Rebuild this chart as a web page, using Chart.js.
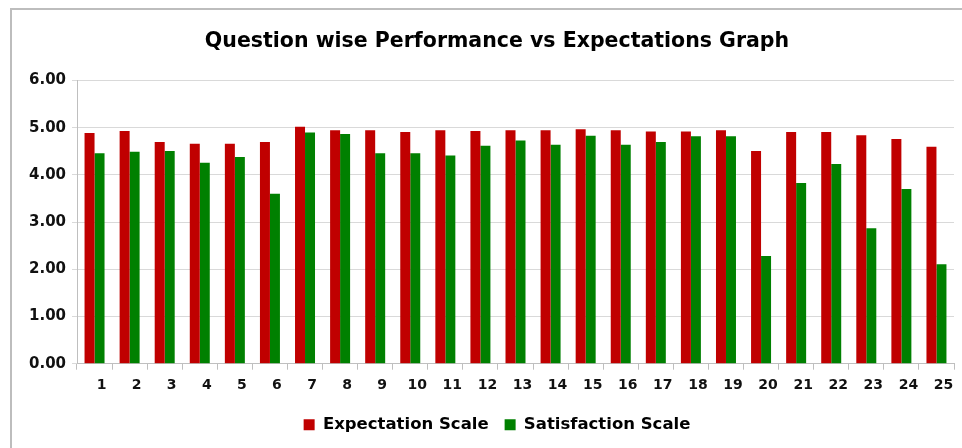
<!DOCTYPE html>
<html>
<head>
<meta charset="utf-8">
<script src="https://cdn.jsdelivr.net/npm/chart.js@4.4.1/dist/chart.umd.min.js"></script>
<style>
  html, body { margin: 0; padding: 0; background: #fff; }
  #wrap { position: relative; width: 962px; height: 448px; overflow: hidden; }
  #frame { position: absolute; left: 10px; top: 8px; width: 980px; height: 460px;
           border-top: 2px solid #bdbdbd; border-left: 2px solid #bdbdbd; }
  canvas { position: absolute; left: 0; top: 0; }
</style>
</head>
<body>
<div id="wrap">
  <div id="frame"></div>
  <!-- canvas runs a little past the window so title and legend sit right of centre -->
  <canvas id="barChart" width="994" height="448"></canvas>
</div>
<script>
var questions = ['1', '2', '3', '4', '5', '6', '7', '8', '9', '10', '11', '12', '13', '14', '15', '16', '17', '18', '19', '20', '21', '22', '23', '24', '25'];

var expectation = [4.89, 4.93, 4.70, 4.66, 4.66, 4.70, 5.02, 4.95, 4.95, 4.91, 4.95, 4.93, 4.95, 4.95, 4.97, 4.95, 4.92, 4.92, 4.95, 4.51, 4.91, 4.91, 4.84, 4.76, 4.60];

var satisfaction = [4.46, 4.49, 4.51, 4.26, 4.38, 3.60, 4.90, 4.87, 4.46, 4.46, 4.41, 4.62, 4.73, 4.64, 4.83, 4.64, 4.70, 4.82, 4.82, 2.28, 3.83, 4.23, 2.87, 3.70, 2.11];

var yTicks = [0, 1, 2, 3, 4, 5, 6];

Chart.defaults.font.family = '"DejaVu Sans", Verdana, sans-serif';
Chart.defaults.color = '#111';

var data = {
    labels: questions,
    datasets: [{
        label: 'Expectation Scale',
        backgroundColor: '#c00000',
        data: expectation,
    }, {
        label: 'Satisfaction Scale',
        backgroundColor: '#008000',
        data: satisfaction,
    }]
};

var config = {
    type: 'bar',
    data,
    options: {
        responsive: false,
        animation: false,
        categoryPercentage: 0.57,
        barPercentage: 1.0,
        layout: { padding: { left: 14, right: 14, top: 14, bottom: 5 } },
        plugins: {
            title: {
                display: true,
                text: 'Question wise Performance vs Expectations Graph',
                color: '#000',
                font: { size: 20.5, weight: 'bold' },
                padding: { top: 15, bottom: 27 }
            },
            legend: {
                position: 'bottom',
                labels: {
                    boxWidth: 11,
                    boxHeight: 11,
                    padding: 16,
                    color: '#000',
                    font: { size: 16.5, weight: 'bold' }
                }
            },
            tooltip: { enabled: false }
        },
        scales: {
            x: {
                grid: { drawOnChartArea: false, drawTicks: true, tickLength: 6, color: '#bfbfbf' },
                border: { color: '#bfbfbf' },
                ticks: { labelOffset: 7, padding: 7, maxRotation: 0, autoSkip: false,
                         font: { size: 14, weight: 'bold' } }
            },
            y: {
                min: 0,
                max: 6,
                afterBuildTicks: function (scale) {
                    scale.ticks = yTicks.map(function (v) { return { value: v }; });
                },
                afterFit: function (scale) { scale.width = 63; },
                grid: { color: '#d9d9d9', tickLength: 5 },
                border: { color: '#bfbfbf' },
                ticks: {
                    padding: 6,
                    font: { size: 15, weight: 'bold' },
                    callback: function (v) { return Number(v).toFixed(2); }
                }
            },
            // empty spacer on the right, nothing drawn
            spacer: {
                type: 'linear',
                position: 'right',
                min: 0,
                max: 6,
                afterFit: function (scale) { scale.width = 26; },
                grid: { drawOnChartArea: false, drawTicks: false },
                border: { display: false },
                ticks: { display: false }
            }
        }
    }
};

var barChart = new Chart(
    document.getElementById('barChart'),
    config,
);
</script>
</body>
</html>
